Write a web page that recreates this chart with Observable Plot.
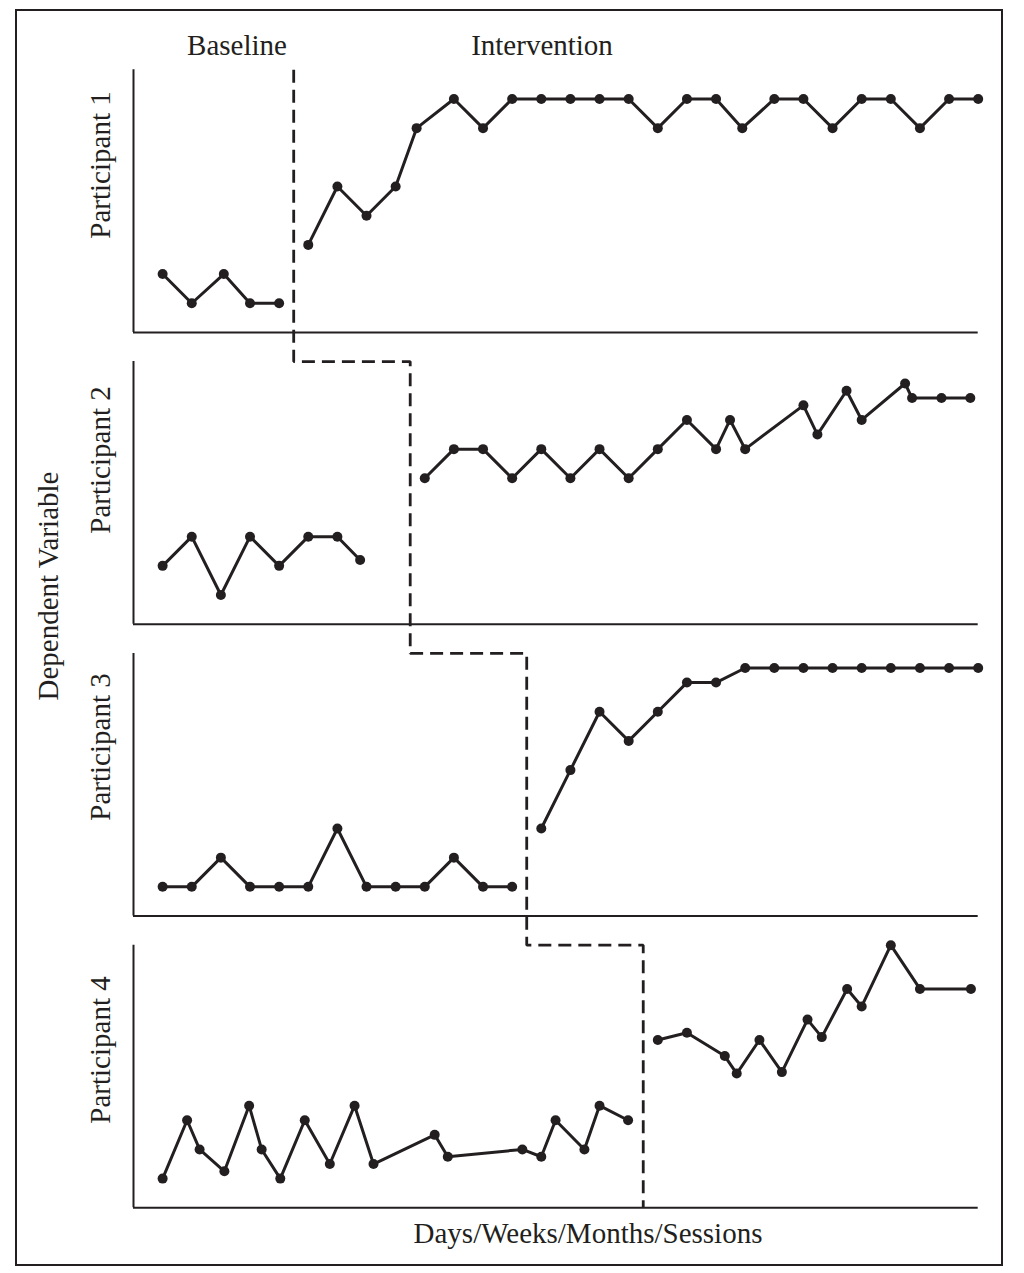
<!DOCTYPE html>
<html>
<head>
<meta charset="utf-8">
<script src="https://cdn.jsdelivr.net/npm/d3@7"></script>
<script src="https://cdn.jsdelivr.net/npm/@observablehq/plot@0.6"></script>
<style>
  html, body { margin: 0; padding: 0; background: #fff; }
  #wrap { position: relative; width: 1024px; height: 1273px; overflow: hidden; font-family: "Liberation Serif", "Times New Roman", serif; color: #231f20; }
  #frame { position: absolute; left: 15px; top: 9px; width: 988px; height: 1257px; border: 2px solid #231f20; box-sizing: border-box; }
  #chart { position: absolute; left: 0; top: 0; }
  .lbl { position: absolute; font-size: 29px; line-height: 1; white-space: nowrap; transform: translate(-50%, -50%); }
  .rot { transform: translate(-50%, -50%) rotate(-90deg); }
</style>
</head>
<body>
<div id="wrap">
  <div id="frame"></div>
  <div id="chart"></div>
</div>
<script>
// ---- data (session, value) ----
const participants = ["Participant 1", "Participant 2", "Participant 3", "Participant 4"];
const phaseLabels = ["Baseline", "Intervention"];
const xTitle = "Days/Weeks/Months/Sessions";
const yTitle = "Dependent Variable";
const phaseChange = [5.5, 9.5, 13.5, 17.5];
const sessionMax = 29;
const valueMax = 9;

const p1Baseline = [[1,2],[2,1],[3.1,2],[4,1],[5,1]];
const p1Intervention = [[6,3],[7,5],[8,4],[9,5],[9.72,7],[11,8],[12,7],[13,8],[14,8],[15,8],[16,8],[17,8],[18,7],[19,8],[20,8],[20.9,7],[22,8],[23,8],[24,7],[25,8],[26,8],[27,7],[28,8],[29,8]];

const p2Baseline = [[1,2],[2,3],[3,1],[4,3],[5,2],[6,3],[7,3],[7.78,2.2]];
const p2Intervention = [[10,5],[11,6],[12,6],[13,5],[14,6],[15,5],[16,6],[17,5],[18,6],[19,7],[20,6],[20.48,7],[21,6],[23,7.5],[23.48,6.5],[24.48,8],[25,7],[26.49,8.25],[26.73,7.75],[27.74,7.75],[28.73,7.75]];

const p3Baseline = [[1,1],[2,1],[3,2],[4,1],[5,1],[6,1],[7,3],[8,1],[9,1],[10,1],[11,2],[12,1],[13,1]];
const p3Intervention = [[14,3],[15,5],[16,7],[17,6],[18,7],[19,8],[20,8],[21,8.5],[22,8.5],[23,8.5],[24,8.5],[25,8.5],[26,8.5],[27,8.5],[28,8.5],[29,8.5]];

const p4Baseline = [[1,1],[1.84,3],[2.27,2],[3.12,1.25],[3.97,3.5],[4.4,2],[5.04,1],[5.88,3],[6.74,1.5],[7.59,3.5],[8.24,1.5],[10.34,2.5],[10.79,1.75],[13.35,2],[14,1.75],[14.49,3],[15.48,2],[16,3.5],[16.98,3]];
const p4Intervention = [[18,5.75],[19,6],[20.3,5.2],[20.71,4.6],[21.49,5.75],[22.26,4.65],[23.14,6.45],[23.63,5.85],[24.5,7.5],[25,6.9],[26,9],[27,7.5],[28.75,7.5]];

const series = [
  [p1Baseline, p1Intervention],
  [p2Baseline, p2Intervention],
  [p3Baseline, p3Intervention],
  [p4Baseline, p4Intervention]
];

// ---- build table: stack panels on one y scale ----
const gap = 1;
const n = participants.length;
const base = i => (n - 1 - i) * (valueMax + gap);
const rows = [];
series.forEach((phases, i) => {
  phases.forEach((pts, j) => {
    pts.forEach(([s, v]) => rows.push({x: s, y: base(i) + v, key: i + "-" + j}));
  });
});
const panels = participants.map((p, i) => ({name: p, b: base(i), t: base(i) + valueMax}));

// stepped phase-change line
const step = [];
phaseChange.forEach((pc, i) => {
  const top = base(i) + valueMax;
  const bottom = i < n - 1 ? base(i + 1) + valueMax : 0;
  step.push({x: pc, y: top}, {x: pc, y: bottom});
});

const ink = "#231f20";
const W = 1024, H = 1273;
const chart = Plot.plot({
  width: W, height: H,
  marginLeft: 133, marginRight: W - 977.7,
  marginTop: 69.3, marginBottom: H - 1207.3,
  x: {domain: [0, sessionMax], axis: null},
  y: {domain: [0, n * valueMax + (n - 1) * gap], axis: null},
  style: {background: "transparent"},
  marks: [
    Plot.ruleX(panels, {x: 0, y1: "b", y2: "t", stroke: ink, strokeWidth: 2}),
    Plot.ruleY(panels, {y: "b", x1: 0, x2: sessionMax, stroke: ink, strokeWidth: 2}),
    Plot.line(step, {x: "x", y: "y", stroke: ink, strokeWidth: 2.8, strokeDasharray: "13,7", strokeLinejoin: "miter", strokeLinecap: "butt"}),
    Plot.line(rows, {x: "x", y: "y", z: "key", stroke: ink, strokeWidth: 3}),
    Plot.dot(rows, {x: "x", y: "y", r: 5, fill: ink, stroke: "none"})
  ]
});
document.getElementById("chart").appendChild(chart);

// ---- text labels ----
const wrap = document.getElementById("wrap");
function label(text, x, y, rot) {
  const d = document.createElement("div");
  d.className = "lbl" + (rot ? " rot" : "");
  d.textContent = text;
  d.style.left = x + "px";
  d.style.top = y + "px";
  wrap.appendChild(d);
}
label(phaseLabels[0], 237, 45);
label(phaseLabels[1], 542, 45);
label(xTitle, 588, 1233);
label(yTitle, 48, 586, true);
const pY = [165, 460, 747, 1050];
participants.forEach((p, i) => label(p, 100, pY[i], true));
</script>
</body>
</html>
